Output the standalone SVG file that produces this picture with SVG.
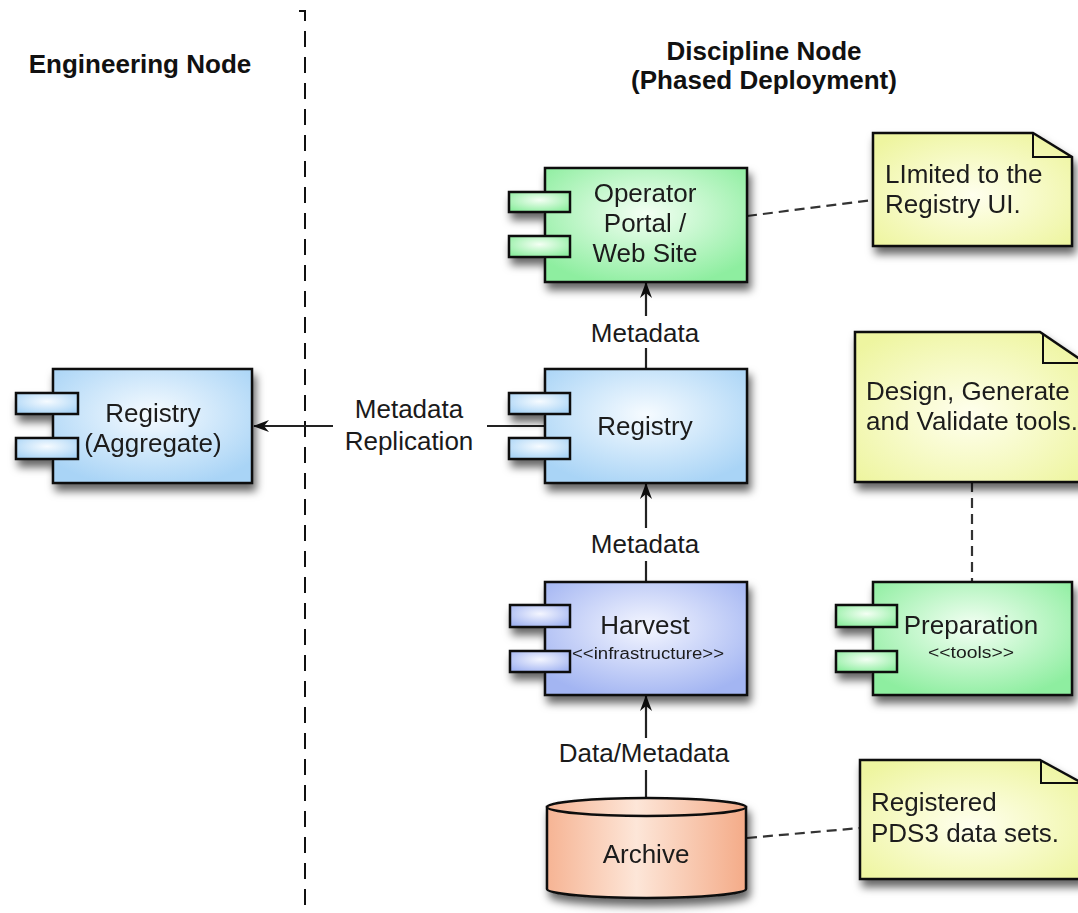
<svg xmlns="http://www.w3.org/2000/svg" width="1078" height="913" viewBox="0 0 1078 913">
  <defs>
    <style>
      .lbl { font-family: "Liberation Sans", Arial, sans-serif; font-size: 26px; fill: #1a1a1a; }
      .title { font-family: "Liberation Sans", Arial, sans-serif; font-size: 26px; font-weight: bold; fill: #111; }
      .stereo { font-family: "Liberation Sans", Arial, sans-serif; font-size: 16px; fill: #1a1a1a; }
      .box { stroke: #111; stroke-width: 2.5; }
      .port { stroke: #111; stroke-width: 2.5; }
      .wire { stroke: #222; stroke-width: 2.2; fill: none; }
      .dash { stroke: #333; stroke-width: 2.2; fill: none; stroke-dasharray: 10 6; }
      .fold { stroke: #111; stroke-width: 2; fill: none; }
      .mid { text-anchor: middle; }
    </style>
    <filter id="shadow" x="-20%" y="-20%" width="150%" height="160%">
      <feDropShadow dx="3" dy="7" stdDeviation="4" flood-color="#000" flood-opacity="0.6"/>
    </filter>
    <radialGradient id="gGreen" cx="50%" cy="40%" r="65%">
      <stop offset="0" stop-color="#f4fff4"/>
      <stop offset="1" stop-color="#8eeea0"/>
    </radialGradient>
    <radialGradient id="gBlue" cx="50%" cy="40%" r="65%">
      <stop offset="0" stop-color="#f6fbff"/>
      <stop offset="1" stop-color="#a9d4f6"/>
    </radialGradient>
    <radialGradient id="gViolet" cx="50%" cy="40%" r="65%">
      <stop offset="0" stop-color="#f4f6ff"/>
      <stop offset="1" stop-color="#a3b5f2"/>
    </radialGradient>
    <radialGradient id="gYellow" cx="50%" cy="55%" r="65%">
      <stop offset="0" stop-color="#ffffee"/>
      <stop offset="1" stop-color="#eef5a0"/>
    </radialGradient>
    <linearGradient id="gOrange" x1="0" y1="0" x2="1" y2="0">
      <stop offset="0" stop-color="#f6b494"/>
      <stop offset="0.45" stop-color="#fde6d8"/>
      <stop offset="1" stop-color="#f4ab88"/>
    </linearGradient>
    <marker id="head" viewBox="0 0 16 12" refX="15" refY="6" markerWidth="16" markerHeight="12" markerUnits="userSpaceOnUse" orient="auto">
      <path d="M0,0 L16,6 L0,12 L5,6 Z" fill="#111"/>
    </marker>
  </defs>

  <rect width="1078" height="913" fill="#fff"/>

  <!-- lane separator and headings -->
  <g id="lanes">
    <path d="M299,11 H305 V905" fill="none" stroke="#111" stroke-width="2" stroke-dasharray="16 10"/>
    <text class="title mid" x="140" y="73">Engineering Node</text>
    <text class="title mid" x="764" y="60">Discipline Node</text>
    <text class="title mid" x="764" y="89">(Phased Deployment)</text>
  </g>

  <!-- connectors -->
  <g id="connectors">
    <line class="wire" x1="646" y1="369" x2="646" y2="348"/>
    <line class="wire" x1="646" y1="316" x2="646" y2="283" marker-end="url(#head)"/>
    <text class="lbl mid" x="645" y="342">Metadata</text>

    <line class="wire" x1="646" y1="582" x2="646" y2="561"/>
    <line class="wire" x1="646" y1="528" x2="646" y2="484" marker-end="url(#head)"/>
    <text class="lbl mid" x="645" y="553">Metadata</text>

    <line class="wire" x1="646" y1="798" x2="646" y2="770"/>
    <line class="wire" x1="646" y1="738" x2="646" y2="696" marker-end="url(#head)"/>
    <text class="lbl mid" x="644" y="762">Data/Metadata</text>

    <line class="wire" x1="545" y1="426" x2="487" y2="426"/>
    <line class="wire" x1="333" y1="426" x2="254" y2="426" marker-end="url(#head)"/>
    <text class="lbl mid" x="409" y="418">Metadata</text>
    <text class="lbl mid" x="409" y="450">Replication</text>

    <line class="dash" x1="747" y1="216" x2="873" y2="200"/>
    <line class="dash" x1="972" y1="482" x2="972" y2="582"/>
    <line class="dash" x1="747" y1="838" x2="860" y2="828"/>
  </g>

  <!-- Engineering Node: aggregate registry -->
  <g id="registry-aggregate" filter="url(#shadow)">
    <rect class="box" x="53" y="369" width="199" height="114" fill="url(#gBlue)"/>
    <rect class="port" x="16" y="393" width="62" height="21" fill="url(#gBlue)"/>
    <rect class="port" x="16" y="438" width="62" height="21" fill="url(#gBlue)"/>
    <text class="lbl mid" x="153" y="422">Registry</text>
    <text class="lbl mid" x="153" y="452">(Aggregate)</text>
  </g>

  <!-- Discipline Node components -->
  <g id="operator-portal" filter="url(#shadow)">
    <rect class="box" x="545" y="168" width="202" height="114" fill="url(#gGreen)"/>
    <rect class="port" x="509" y="192" width="61" height="20" fill="url(#gGreen)"/>
    <rect class="port" x="509" y="236" width="61" height="21" fill="url(#gGreen)"/>
    <text class="lbl mid" x="645" y="202">Operator</text>
    <text class="lbl mid" x="645" y="232">Portal /</text>
    <text class="lbl mid" x="645" y="262">Web Site</text>
  </g>

  <g id="registry" filter="url(#shadow)">
    <rect class="box" x="545" y="369" width="202" height="114" fill="url(#gBlue)"/>
    <rect class="port" x="509" y="393" width="61" height="21" fill="url(#gBlue)"/>
    <rect class="port" x="509" y="438" width="61" height="21" fill="url(#gBlue)"/>
    <text class="lbl mid" x="645" y="435">Registry</text>
  </g>

  <g id="harvest" filter="url(#shadow)">
    <rect class="box" x="545" y="582" width="202" height="113" fill="url(#gViolet)"/>
    <rect class="port" x="510" y="605" width="60" height="22" fill="url(#gViolet)"/>
    <rect class="port" x="510" y="651" width="60" height="21" fill="url(#gViolet)"/>
    <text class="lbl mid" x="645" y="634">Harvest</text>
    <text class="stereo mid" x="648" y="659" textLength="152" lengthAdjust="spacingAndGlyphs">&lt;&lt;infrastructure&gt;&gt;</text>
  </g>

  <g id="preparation" filter="url(#shadow)">
    <rect class="box" x="873" y="582" width="199" height="113" fill="url(#gGreen)"/>
    <rect class="port" x="836" y="605" width="61" height="22" fill="url(#gGreen)"/>
    <rect class="port" x="836" y="651" width="61" height="21" fill="url(#gGreen)"/>
    <text class="lbl mid" x="971" y="634">Preparation</text>
    <text class="stereo mid" x="971" y="658" textLength="86" lengthAdjust="spacingAndGlyphs">&lt;&lt;tools&gt;&gt;</text>
  </g>

  <g id="archive" filter="url(#shadow)">
    <path class="box" d="M547,807 V889 A99.5,9 0 0 0 746,889 V807 Z" fill="url(#gOrange)"/>
    <ellipse class="box" cx="646.5" cy="807" rx="99.5" ry="9" fill="url(#gOrange)"/>
    <text class="lbl mid" x="646" y="863">Archive</text>
  </g>

  <!-- notes -->
  <g id="note-portal" filter="url(#shadow)">
    <path class="box" d="M873,133 H1033 L1072,157 V246 H873 Z" fill="url(#gYellow)"/>
    <path class="fold" d="M1033,133 V157 H1072"/>
    <text class="lbl" x="885" y="183">LImited to the</text>
    <text class="lbl" x="885" y="213">Registry UI.</text>
  </g>

  <g id="note-tools" filter="url(#shadow)">
    <path class="box" d="M855,332 H1040 L1084,362 V482 H855 Z" fill="url(#gYellow)"/>
    <path class="fold" d="M1043,333 V363 H1084"/>
    <text class="lbl" x="866" y="400">Design, Generate</text>
    <text class="lbl" x="866" y="430">and Validate tools.</text>
  </g>

  <g id="note-archive" filter="url(#shadow)">
    <path class="box" d="M860,760 H1040 L1082,783 V879 H860 Z" fill="url(#gYellow)"/>
    <path class="fold" d="M1041,760 V783 H1082"/>
    <text class="lbl" x="871" y="811">Registered</text>
    <text class="lbl" x="871" y="842">PDS3 data sets.</text>
  </g>
</svg>
